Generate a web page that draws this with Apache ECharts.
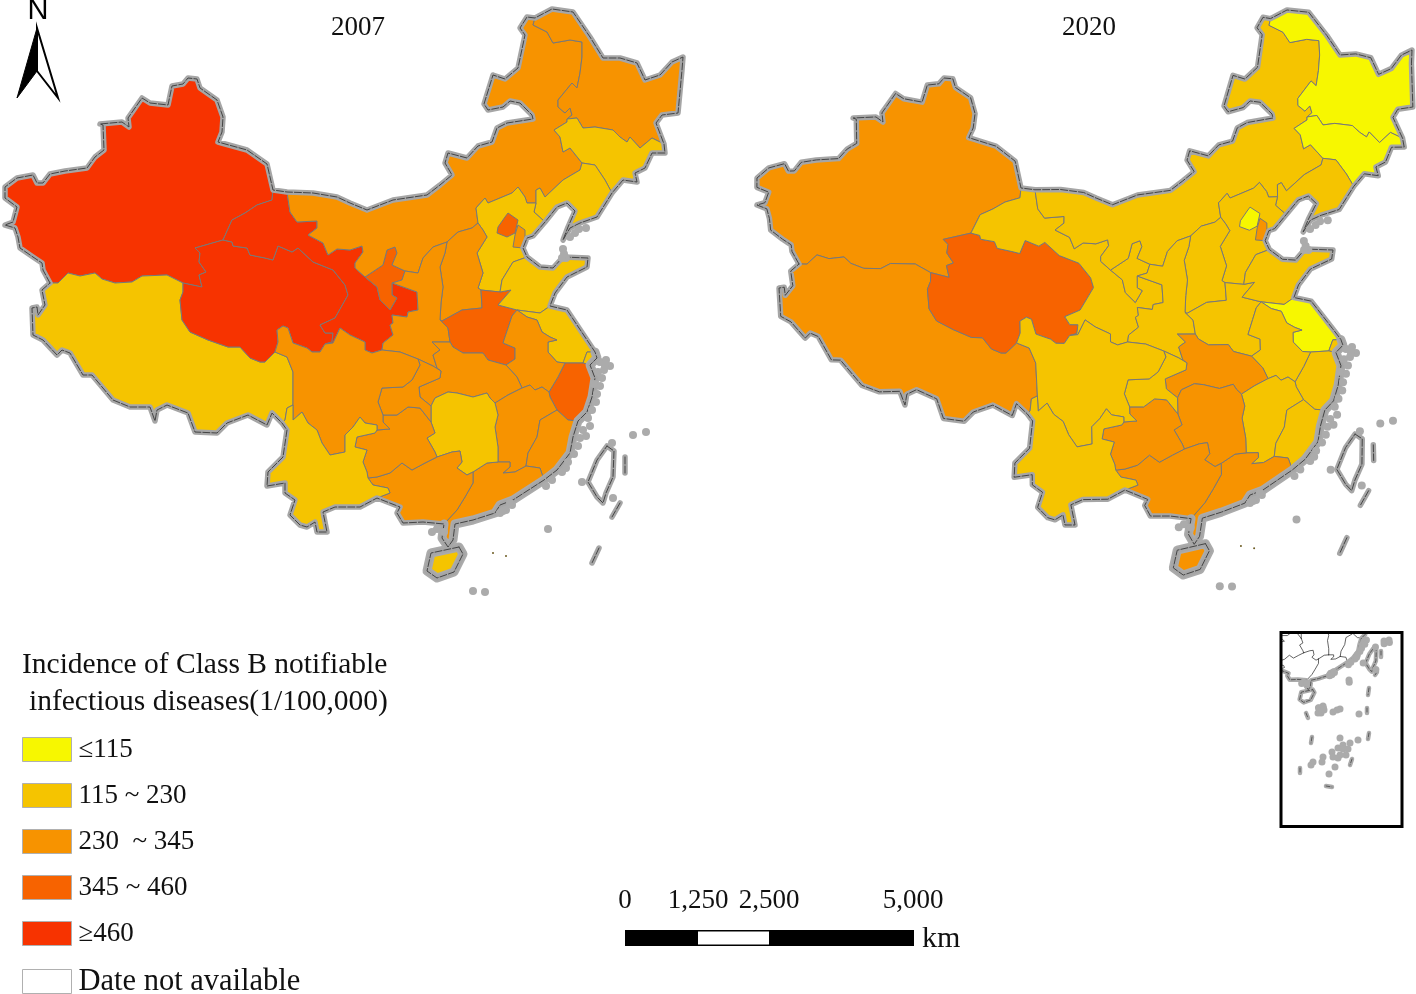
<!DOCTYPE html>
<html><head><meta charset="utf-8">
<style>html,body{margin:0;padding:0;background:#fff}#c{width:1416px;height:994px}</style>
<script src="https://cdn.jsdelivr.net/npm/echarts@6/dist/echarts.min.js"></script>
</head><body><div id="c"></div>
<script>
// ---------- data ----------
const provinces = ['Xinjiang','Tibet','Qinghai','Gansu','Ningxia','Inner Mongolia','Heilongjiang','Jilin','Liaoning','Hebei','Shanxi','Shaanxi','Henan','Shandong','Jiangsu','Shanghai','Zhejiang','Anhui','Hubei','Jiangxi','Fujian','Guangdong','Hunan','Guangxi','Guizhou','Chongqing','Sichuan','Yunnan','Beijing','Tianjin','Hainan'];
const incidence2007 = [640,200,500,480,400,300,320,220,225,210,300,290,420,190,170,225,380,280,330,320,290,330,220,340,320,300,280,210,380,260,225];
const incidence2020 = [300,290,400,180,190,190,110,110,170,170,180,170,180,140,100,150,190,170,240,190,180,260,250,270,280,210,200,215,100,250,240];
const legendLabels = ['≤115','115 ~ 230','230  ~ 345','345 ~ 460','≥460','Date not available'];
const legendColors = ['#F7F700','#F5C400','#F79300','#F76300','#F73300','#FFFFFF'];
const classBreaks = [115,230,345,460];
const scaleLabels = ['0','1,250','2,500','5,000'];

// ---------- base-map geometry (boundary chains of the 2007 panel) ----------
const chains = {
cXJ:"50,283 43,270 42,263 33,257 20,248 18,237 15,228 5,225 13,222 17,207 5,198 5,187 17,178 33,175 37,183 43,183 50,174 65,171 87,168 95,157 104,150 103,125 100,124 122,122 129,127 128,118 142,98 150,103 168,105 172,86 183,84 188,78 197,79 200,88 217,100 223,117 222,132 218,142 247,150 267,164 273,190",
cGS:"273,190 287,192",
cNM:"287,192 313,193 337,197 350,203 367,210 393,200 427,195 440,185 452,175 445,163 448,153 467,158 478,146 492,142 497,128 507,123 533,119 532,115 520,103 510,101 503,107 488,110 484,104 493,75 505,79 518,68 525,35 520,28 527,17 535,18",
cHL:"535,18 552,9 573,12 590,37 603,58 620,58 637,63 645,80 660,75 672,62 683,57 682,70 678,113 662,115 656,123 664,144",
cJL:"664,144 665,153 652,153 645,168 635,173 637,182 623,180 612,193",
cLN:"612,193 597,217 580,223 570,228 563,240 568,227 575,211 567,203 557,207 545,222",
cHB:"545,222 533,236 527,238 523,248 527,257",
cSD:"527,257 540,267 553,268 563,257 588,258 587,267 567,277 555,293 550,306",
cJS:"550,306 567,310 587,340 595,352",
cSH:"595,352 597,358 590,365",
cZJ:"590,365 595,378 592,397 587,412 578,421",
cFJ:"578,421 573,437 570,453 557,470 544,480",
cGD:"544,480 513,500 500,505 495,513 473,520 455,524 453,540 448,547 442,538 444,524",
cGX:"444,524 423,522 403,523 397,513 400,507 377,498",
cYN:"377,498 360,507 350,507 335,507 323,512 327,532 317,532 315,522 307,527 300,525 290,515 295,500 285,493 285,483 267,486 268,472 283,457 287,430 282,423",
cXZ:"282,423 272,413 267,425 248,415 227,423 217,433 195,432 188,413 167,405 157,410 155,421 150,407 130,407 113,400 92,375 83,375 70,353 62,350 57,355 43,340 33,335 32,308 37,307 38,315 45,305 42,290 50,283",
iXJ_XZ:"50,283 58,283 68,273 80,276 95,273 102,279 115,283 132,282 142,276 167,275 183,283",
iXJ_QH:"223,240 195,248 200,253 199,262 206,272 199,275 202,287 183,283",
iXJ_GS:"273,190 272,200 257,205 245,213 232,220 223,240",
iGS_QH:"223,240 232,242 233,246 247,248 250,255 265,258 273,260 278,246 292,252 298,248 313,262 333,270 345,285 348,295 335,318 320,325 325,333 333,333 332,342 325,344",
iQH_XZ:"183,283 183,292 180,300 182,320 190,332 208,340 228,347 240,347 250,358 260,362 265,362 275,352",
iQH_SC:"325,344 320,352 312,352 307,348 293,343 288,328 283,326 277,330 278,342 275,352",
iXZ_SC:"275,352 287,357 293,372 293,405",
iXZ_YN:"293,405 287,408 285,420 282,423",
iSC_YN:"293,405 293,420 302,412 308,423 317,430 322,443 330,455 345,452 345,435 353,427 360,417 365,423 377,425 377,430",
iGS_SC:"325,344 333,343 340,328 350,335 365,342 365,350 372,353 382,350",
iGS_NM:"287,192 290,212 297,222 317,221 317,228 308,235 323,243 328,255 337,249 350,250 362,246 363,252 355,263 355,268 365,277",
iGS_NX1:"365,277 377,287 380,300 390,310",
iGS_NX2:"390,310 397,298 392,295 392,283",
iNX_NM:"365,277 383,265 387,250 395,247 397,253 392,265 405,271",
iNX_SA:"405,271 402,280 392,283",
iGS_SA:"392,283 417,292 418,310 408,312 407,317 392,315 393,323 390,325 393,335 383,343 382,350",
iSA_NM:"405,271 418,273 423,258 433,247 447,242",
iSA_SX:"447,242 445,253 440,267 443,287 441,303 440,320",
iSA_HN:"440,320 448,328 450,342",
iSA_HB:"450,342 432,342 440,350 433,355 437,368 441,371",
iSA_CQ:"441,371 433,366 418,359",
iSA_SC:"382,350 400,352 418,359",
iCQ_SC:"418,359 420,365 412,380 403,387 382,388 378,402 383,415",
iCQ_HB:"441,371 440,378 419,387 420,397 431,406",
iCQ_HN:"431,406 431,422",
iCQ_GZ:"431,422 420,408 408,407 397,415 383,415",
iSC_GZ:"383,415 383,422 390,429 377,430",
iYN_GZ:"377,430 375,433 357,437 355,447 367,450 363,462 367,472 368,478",
iYN_GX:"368,478 373,485 388,488 390,493 377,498",
iGZ_HN:"431,422 435,433 427,438 435,452 437,457",
iGZ_GX:"437,457 425,463 412,470 402,463 390,473 377,477 368,478",
iHN_GX:"437,457 452,452 460,451 462,462 457,468 467,475 473,472",
iHN_GD:"473,472 487,463 498,462",
iGX_GD:"473,472 473,483 465,497 457,510 444,524",
iHN_JX:"498,462 498,447 495,427 498,415 495,403",
iHN_HB:"495,403 490,398 487,393 473,397 457,393 448,392 435,398 431,406",
iHB_JX:"495,403 508,395 522,388",
iHB_AH:"506,365 517,377 522,388",
iHB_HE:"450,342 453,347 463,353 483,353 488,360 506,365",
iHE_AH:"506,365 515,359 515,348 503,343 508,328 512,316 517,310",
iHE_SD:"517,310 498,305 511,290 500,292",
iHE_HB:"500,292 481,290",
iHE_SX:"481,290 482,308 462,310 442,321 440,320",
iSX_HB:"478,223 483,230 487,237 477,253 483,273 478,288 481,290",
iSX_NM:"447,242 458,232 472,228 478,223",
iHB_NM:"478,223 476,208 485,198 488,203 512,193 518,187 525,197 527,203 536,203",
iHB_LN:"536,203 534,212 545,222",
iLN_NM:"536,203 536,190 540,188 545,197 563,180 580,170 582,163",
iJL_NM:"582,163 570,148 563,152 560,137 554,130 567,122 567,119",
iHL_NM:"535,18 533,25 547,32 553,43 570,40 582,42 582,57 580,73 577,88 572,83 558,100 558,107 565,113 570,108 572,115 567,119",
iHL_JL:"567,119 577,118 583,128 595,127 613,130 620,137 627,142 630,137 640,148 652,138 664,144",
iLN_JL:"582,163 595,165 605,180 612,193",
iHB_SD:"527,257 513,262 502,280 500,292",
iSD_JS:"517,310 540,313 550,306",
iJS_AH:"517,310 527,317 537,320 542,332 550,337 557,340 548,342 548,352 557,362 565,363",
iJS_ZJ:"565,363 583,363",
iJS_SH:"583,363 587,352 595,352",
iZJ_SH:"583,363 590,365",
iAH_ZJ:"565,363 558,377 549,392",
iAH_JX:"549,392 542,387 535,390 530,385 522,388",
iZJ_JX:"549,392 550,397 557,410",
iZJ_FJ:"557,410 568,420 578,421",
iJX_FJ:"557,410 540,420 537,437 528,453 526,466",
iJX_GD:"526,466 515,472 503,473 510,467 510,462 498,462",
iFJ_GD:"526,466 540,468 544,480"
};
const rings = {
Xinjiang:"cXJ iXJ_GS iXJ_QH -iXJ_XZ",
Tibet:"iXJ_XZ iQH_XZ iXZ_SC iXZ_YN cXZ",
Qinghai:"iGS_QH iQH_SC -iQH_XZ -iXJ_QH",
Gansu:"cGS iGS_NM iGS_NX1 iGS_NX2 iGS_SA -iGS_SC -iGS_QH -iXJ_GS",
Ningxia:"iNX_NM iNX_SA -iGS_NX2 -iGS_NX1",
"Inner Mongolia":"cNM iHL_NM -iJL_NM -iLN_NM -iHB_NM -iSX_NM -iSA_NM -iNX_NM -iGS_NM",
Heilongjiang:"cHL -iHL_JL -iHL_NM",
Jilin:"iHL_JL cJL -iLN_JL iJL_NM",
Liaoning:"iLN_JL cLN -iHB_LN iLN_NM",
Hebei:"iHB_NM iHB_LN cHB iHB_SD iHE_HB -iSX_HB",
Shanxi:"iSX_NM iSX_HB iHE_SX -iSA_SX",
Shaanxi:"iSA_NM iSA_SX iSA_HN iSA_HB iSA_CQ -iSA_SC -iGS_SA -iNX_SA",
Henan:"-iHE_SX -iHE_HB -iHE_SD -iHE_AH -iHB_HE -iSA_HN",
Shandong:"-iHB_SD cSD -iSD_JS iHE_SD",
Jiangsu:"iSD_JS cJS -iJS_SH -iJS_ZJ -iJS_AH",
Shanghai:"iJS_SH cSH -iZJ_SH",
Zhejiang:"iJS_ZJ iZJ_SH cZJ -iZJ_FJ -iZJ_JX -iAH_ZJ",
Anhui:"iJS_AH iAH_ZJ iAH_JX -iHB_AH iHE_AH",
Hubei:"iHB_HE iHB_AH -iHB_JX iHN_HB -iCQ_HB -iSA_HB",
Jiangxi:"-iAH_JX iZJ_JX iJX_FJ iJX_GD iHN_JX iHB_JX",
Fujian:"iZJ_FJ cFJ -iFJ_GD -iJX_FJ",
Guangdong:"iFJ_GD cGD -iGX_GD iHN_GD -iJX_GD",
Hunan:"-iHN_HB -iHN_JX -iHN_GD -iHN_GX -iGZ_HN -iCQ_HN",
Guangxi:"iHN_GX iGX_GD cGX -iYN_GX -iGZ_GX",
Guizhou:"-iCQ_GZ iGZ_HN iGZ_GX -iYN_GZ -iSC_GZ",
Chongqing:"-iSA_CQ iCQ_HB iCQ_HN iCQ_GZ -iCQ_SC",
Sichuan:"-iQH_SC iGS_SC iSA_SC iCQ_SC iSC_GZ -iSC_YN -iXZ_SC",
Yunnan:"iSC_YN iYN_GZ iYN_GX cYN -iXZ_YN"
};
const directRings = {
Beijing:"508,213 518,220 515,233 507,237 497,233 498,227 505,217",
Tianjin:"518,225 525,230 525,238 523,248 513,247 515,235",
Hainan:"459,547 463,554 454,572 437,578 427,571 431,553",
Taiwan:"607,446 614,451 613,477 606,493 603,503 597,497 588,482 597,460"
};
const coastOrder = "cXJ cGS cNM cHL cJL cLN cHB cSD cJS cSH cZJ cFJ cGD cGX cYN cXZ";
const thickCoast = "cSH cZJ cFJ cGD";
const dashes = ["625,457 625,473","620,503 612,517","599,548 592,563"];
const islands = "563,249 564,254 566,258 562,258 579,229 586,228 570,237 575,233 600,362 606,360 610,366 604,370 598,372 602,378 600,386 597,394 596,402 592,410 588,418 590,426 583,430 580,438 578,446 574,454 568,462 562,472 552,480 546,486 512,505 506,510 500,513 432,532 437,529 612,443 633,435 646,432 582,482 613,498 548,529 473,591 485,592 444,532 605,366 594,384 586,436 566,468 503,511 510,503";
const tinyIslands = "493,553 506,556";
// control points relating the 2007 panel to the slightly different 2020 panel (x, y, dx, dy)
const panelWarp = [[188,78,756,0],[129,127,754,-5],[5,187,752,-9],[5,225,752,-20],[49,284,749,-19],[30,308,747,-20],[275,189,748,-2],[262,362,741,-9],[550,9,735,1],[683,57,729,-7],[567,238,740,-8],[533,118,740,-1],[483,103,740,2],[445,560,746,-2],[605,480,749,-13],[588,258,745,-8],[607,363,746,-13],[503,510,750,-10],[323,532,748,-7],[377,498,748,-8],[155,421,750,-16]];
// inset extras, in page pixels
const insetDashes = ["1381,651 1381,657","1377,672 1375,675","1369,688 1368,695","1367,708 1367,713","1369,733 1368,739","1352,759 1350,765","1326,786 1332,787","1300,768 1300,773","1312,737 1311,743","1306,713 1308,718"];
const insetBlobs = "1319,708 1321,713 1324,710 1318,713 1323,706 1333,712 1337,710 1340,709 1359,714 1340,738 1343,745 1350,743 1358,740 1338,748 1332,752 1323,757 1333,757 1340,755 1346,755 1313,762 1311,765 1335,767 1329,774 1343,749 1338,758 1348,749 1322,762 1384,641 1389,640 1349,680";

// ---------- helpers ----------
const pts = s => s.trim().split(/\s+/).map(p => p.split(',').map(Number));
const chain = n => n[0]==='-' ? pts(chains[n.slice(1)]).reverse() : pts(chains[n]);
const join = s => { const o=[]; s.trim().split(/\s+/).forEach(n=>chain(n).forEach(p=>{const l=o[o.length-1]; if(!l||l[0]!==p[0]||l[1]!==p[1]) o.push(p);})); return o; };
const warp = ([x,y]) => { let w=0,a=0,b=0; for(const c of panelWarp){const d=(x-c[0])**2+(y-c[1])**2+1,k=1/d; w+=k;a+=k*c[2];b+=k*c[3];} return [x+a/w,y+b/w]; };
const same = p => p;
const geoPt = ([x,y]) => [x,-y];
function mapJson(fn){
  const feats=[];
  const add=(name,ring)=>{const r=ring.map(fn).map(geoPt); r.push(r[0]); feats.push({type:'Feature',properties:{name},geometry:{type:'Polygon',coordinates:[r]}});};
  for(const k in rings) add(k,join(rings[k]));
  for(const k in directRings) add(k,pts(directRings[k]));
  return {type:'FeatureCollection',features:feats};
}
echarts.registerMap('panel2007',mapJson(same));
echarts.registerMap('panel2020',mapJson(warp));
const closed = r => r.concat([r[0]]);
const outline = {coast:join(coastOrder),hainan:closed(pts(directRings.Hainan)),taiwan:closed(pts(directRings.Taiwan))};
const toLine = (r,fn) => ({coords:r.map(fn).map(geoPt)});
const panels = [same,warp];
const haloLines=[],thickLines=[],coreLines=[];
for(const fn of panels){
  [outline.coast,outline.hainan,outline.taiwan,...dashes.map(pts)].forEach(r=>{haloLines.push(toLine(r,fn));coreLines.push(toLine(r,fn));});
  thickLines.push(toLine(join(thickCoast),fn));
  thickLines.push(toLine(outline.hainan,fn));
}
// inset: same boundaries scaled down and clipped to the frame
const box={x0:1282,y0:634,x1:1401,y1:826};
const toInset=([x,y])=>[1307+0.41*(x-445),695+0.41*(y-560)];
function clipSeg(a,b){let t0=0,t1=1;const dx=b[0]-a[0],dy=b[1]-a[1];
  for(const [p,q] of [[-dx,a[0]-box.x0],[dx,box.x1-a[0]],[-dy,a[1]-box.y0],[dy,box.y1-a[1]]]){
    if(p===0){if(q<0)return null;continue;} const r=q/p; if(p<0){if(r>t1)return null;if(r>t0)t0=r;}else{if(r<t0)return null;if(r<t1)t1=r;}}
  return [[a[0]+t0*dx,a[1]+t0*dy],[a[0]+t1*dx,a[1]+t1*dy]];}
function clipLine(r){const out=[];let cur=null;const p=r.map(toInset);
  for(let i=0;i<p.length-1;i++){const s=clipSeg(p[i],p[i+1]); if(!s){cur=null;continue;}
    if(!cur){cur=[s[0]];out.push(cur);} cur.push(s[1]); if(s[1][0]!==p[i+1][0]||s[1][1]!==p[i+1][1])cur=null;}
  return out.filter(c=>c.length>1);}
const insetThin=[],insetHalo=[],insetCore=[];
Object.keys(chains).forEach(n=>{ if(n[0]==='i') clipLine(pts(chains[n])).forEach(c=>insetThin.push(toLine(c,same))); });
[outline.coast,outline.hainan,outline.taiwan].forEach(r=>clipLine(r).forEach(c=>{insetHalo.push(toLine(c,same));insetCore.push(toLine(c,same));}));
insetDashes.map(pts).forEach(r=>{insetHalo.push(toLine(r,same));insetCore.push(toLine(r,same));});
const insetHaloDots=pts(islands).map(toInset).filter(p=>p[0]>box.x0+3&&p[0]<box.x1-3&&p[1]>box.y0+3&&p[1]<box.y1-3);
const dotPts=[...pts(islands),...pts(islands).map(warp)].map(geoPt);
const tinyPts=[...pts(tinyIslands),...pts(tinyIslands).map(warp)].map(geoPt);
const blobPts=[...pts(insetBlobs),...insetHaloDots].map(geoPt);

const full={left:0,top:0,width:1416,height:994,boundingCoords:[[0,0],[1416,-994]],aspectScale:1,roam:false};
const serif='"Liberation Serif","Times New Roman",serif';
const mapSeries=(name,map,vals)=>Object.assign({type:'map',name,map,...full,selectedMode:false,showLegendSymbol:false,
  label:{show:false},emphasis:{disabled:true},silent:true,
  itemStyle:{areaColor:'#fff',borderColor:'#787878',borderWidth:1},
  data:provinces.map((n,i)=>({name:n,value:vals[i]}))});
const lineSeries=(data,color,width,type,extra)=>({type:'lines',coordinateSystem:'geo',geoIndex:0,polyline:true,silent:true,data,
  lineStyle:Object.assign({color,width,type:type||'solid',opacity:1,cap:'round',join:'round'},extra||{})});
const dotSeries=(data,size,color)=>({type:'scatter',coordinateSystem:'geo',geoIndex:0,silent:true,symbol:'circle',symbolSize:size,data,itemStyle:{color,opacity:1},emphasis:{disabled:true}});
const scaleX=[625,698,769,913];
const plain=(size)=>({fontFamily:serif,fontSize:size,fontWeight:'normal',color:'#111'});

const option={
  animation:false,backgroundColor:'#fff',
  title:[
    {text:'2007',left:331,top:14,padding:0,textStyle:plain(27)},
    {text:'2020',left:1062,top:14,padding:0,textStyle:plain(27)},
    {text:'Incidence of Class B notifiable',left:22,top:650,padding:0,textStyle:plain(29.5)},
    {text:'infectious diseases(1/100,000)',left:29,top:687,padding:0,textStyle:plain(29.5)}
  ],
  geo:{map:'panel2007',...full,silent:true,z:0,itemStyle:{areaColor:'transparent',borderWidth:0,borderColor:'transparent'},label:{show:false},emphasis:{disabled:true}},
  visualMap:{type:'piecewise',show:false,seriesIndex:[0,1],
    pieces:[{lte:classBreaks[0],color:legendColors[0]},{gt:classBreaks[0],lte:classBreaks[1],color:legendColors[1]},{gt:classBreaks[1],lte:classBreaks[2],color:legendColors[2]},{gt:classBreaks[2],lte:classBreaks[3],color:legendColors[3]},{gt:classBreaks[3],color:legendColors[4]}]},
  legend:{left:22,top:736,height:300,orient:'vertical',itemWidth:49,itemHeight:24,itemGap:19,icon:'rect',selectedMode:false,
    padding:0,data:legendLabels,
    formatter:n=>n===legendLabels[5]?'{w|'+n+'}':n,
    itemStyle:{borderColor:'#b0b0b0',borderWidth:1,opacity:1},
    textStyle:{fontFamily:serif,fontSize:27,color:'#111',lineHeight:24,padding:[0,0,0,2],rich:{w:{fontFamily:serif,fontSize:30.5,color:'#111',lineHeight:24}}}},
  series:[
    mapSeries('2007','panel2007',incidence2007),
    mapSeries('2020','panel2020',incidence2020),
    dotSeries(dotPts,8,'#ababab'),
    dotSeries(tinyPts,2,'#6b5a20'),
    lineSeries(thickLines,'#ababab',9),
    lineSeries(haloLines,'#a6a6a6',5.5),
    lineSeries(coreLines,'#444',1,[7,2]),
    lineSeries(insetThin,'#222',0.7),
    dotSeries(blobPts,7,'#ababab'),
    lineSeries(insetHalo,'#ababab',4.5),
    lineSeries(insetCore,'#333',0.7,[4,2]),
    ...legendLabels.map((n,i)=>({type:'scatter',coordinateSystem:'geo',geoIndex:0,name:n,data:[],itemStyle:{color:legendColors[i],opacity:1}}))
  ],
  graphic:[
    {type:'text',silent:true,style:{text:'N',x:38,y:11,align:'center',verticalAlign:'middle',font:'29px "Liberation Sans",sans-serif',fill:'#000'}},
    {type:'polygon',silent:true,shape:{points:[[37,28],[17,98],[37,71]]},style:{fill:'#000',stroke:'#000',lineWidth:1}},
    {type:'polygon',silent:true,shape:{points:[[37,28],[37,71],[58,98]]},style:{fill:'#fff',stroke:'#000',lineWidth:2}},
    {type:'rect',silent:true,shape:{x:1281,y:632.5,width:121,height:194},style:{fill:'none',stroke:'#000',lineWidth:3},z:50},
    {type:'rect',silent:true,shape:{x:scaleX[0],y:930,width:scaleX[3]-scaleX[0]+1,height:16},style:{fill:'#000'}},
    {type:'rect',silent:true,shape:{x:scaleX[1],y:931.5,width:scaleX[2]-scaleX[1],height:13},style:{fill:'#fff'}},
    ...scaleLabels.map((t,i)=>({type:'text',silent:true,style:{text:t,x:scaleX[i],y:901,align:'center',verticalAlign:'middle',font:'27px '+serif,fill:'#111'}})),
    {type:'text',silent:true,style:{text:'km',x:922,y:939,align:'left',verticalAlign:'middle',font:'30px '+serif,fill:'#111'}}
  ]
};
echarts.init(document.getElementById('c')).setOption(option);
</script></body></html>
